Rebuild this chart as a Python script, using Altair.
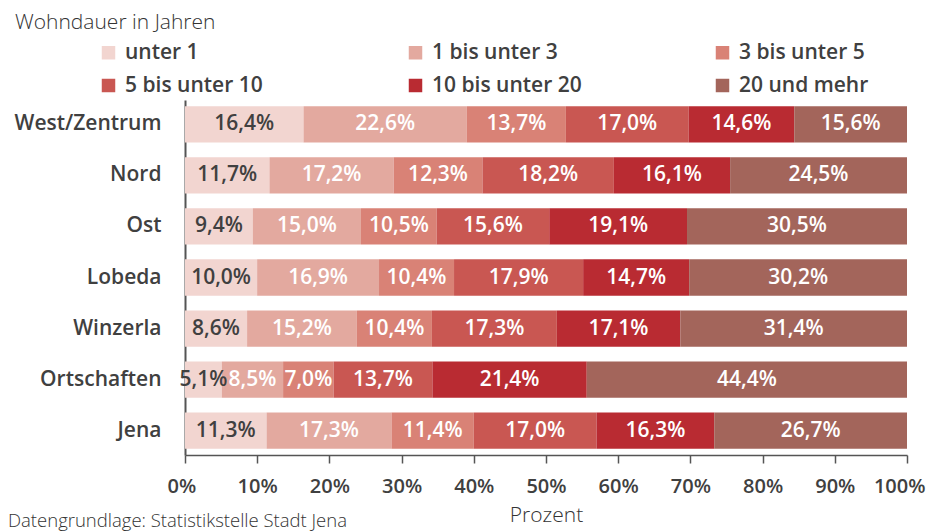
import altair as alt
import pandas as pd

regions = ["West/Zentrum", "Nord", "Ost", "Lobeda", "Winzerla", "Ortschaften", "Jena"]
categories = ["unter 1", "1 bis unter 3", "3 bis unter 5", "5 bis unter 10", "10 bis unter 20", "20 und mehr"]
unter_1 = [16.4, 11.7, 9.4, 10.0, 8.6, 5.1, 11.3]
bis_unter_3 = [22.6, 17.2, 15.0, 16.9, 15.2, 8.5, 17.3]
bis_unter_5 = [13.7, 12.3, 10.5, 10.4, 10.4, 7.0, 11.4]
bis_unter_10 = [17.0, 18.2, 15.6, 17.9, 17.3, 13.7, 17.0]
bis_unter_20 = [14.6, 16.1, 19.1, 14.7, 17.1, 21.4, 16.3]
und_mehr_20 = [15.6, 24.5, 30.5, 30.2, 31.4, 44.4, 26.7]
series = [unter_1, bis_unter_3, bis_unter_5, bis_unter_10, bis_unter_20, und_mehr_20]
colors = ["#f2d5d0", "#e3a99f", "#d98276", "#c95752", "#b92b32", "#a3655b"]
x_ticks = [0, 0.1, 0.2, 0.3, 0.4, 0.5, 0.6, 0.7, 0.8, 0.9, 1.0]
title_text = "Wohndauer in Jahren"
source_text = ["Datengrundlage: Statistikstelle Stadt Jena"]

rows = []
for ci, (cat, vals) in enumerate(zip(categories, series)):
    for region, v in zip(regions, vals):
        rows.append({"region": region, "cat": cat, "order": ci, "value": v})
df = pd.DataFrame(rows)

FONT = "Open Sans"
TXT = "#404040"
FS = 21

y_enc = alt.Y(
    "region:N",
    sort=regions,
    scale=alt.Scale(paddingInner=0.29, paddingOuter=0.12),
    axis=alt.Axis(
        title=None, ticks=False, domain=True, domainColor="#555555", domainWidth=2,
        labelPadding=24, labelFont=FONT, labelFontSize=FS, labelFontWeight=600,
        labelColor=TXT,
    ),
)

base = (
    alt.Chart(df)
    .transform_stack(
        stack="value", groupby=["region"], sort=[alt.SortField("order")],
        as_=["x0", "x1"], offset="normalize",
    )
    .transform_calculate(
        mid="(datum.x0 + datum.x1) / 2",
        label="replace(format(datum.value, '.1f'), '.', ',') + '%'",
    )
)

bars = base.mark_bar().encode(
    y=y_enc,
    x=alt.X(
        "x0:Q",
        scale=alt.Scale(domain=[0, 1], nice=False),
        axis=alt.Axis(
            values=x_ticks, format=".0%", title="Prozent", grid=False,
            labelFlush=True, labelFlushOffset=18,
            domainColor="#555555", domainWidth=1.5, tickColor="#555555",
            tickWidth=1.5, tickSize=8, labelPadding=13, labelFont=FONT,
            labelFontSize=20, labelFontWeight=600, labelColor=TXT,
            titleFont=FONT, titleFontSize=FS, titleFontWeight=300,
            titleColor="#333333", titlePadding=8,
        ),
    ),
    x2="x1:Q",
    color=alt.Color(
        "cat:N",
        scale=alt.Scale(domain=categories, range=colors),
        legend=alt.Legend(
            title=None, orient="none", legendX=-87, legendY=-58, columns=3,
            direction="horizontal",
            symbolType="square", symbolSize=182, symbolStrokeWidth=0,
            labelFont=FONT, labelFontSize=FS, labelFontWeight=600,
            labelColor=TXT, labelOffset=6, labelLimit=300,
            columnPadding=130, rowPadding=11, gridAlign="all", padding=0,
        ),
    ),
)

labels = base.mark_text(font=FONT, fontSize=FS, fontWeight=600).encode(
    y=alt.Y("region:N", sort=regions),
    x=alt.X("mid:Q"),
    text="label:N",
    color=alt.condition(alt.datum.cat == "unter 1", alt.value(TXT), alt.value("white")),
)

source = (
    alt.Chart(pd.DataFrame({"t": source_text}))
    .mark_text(align="left", baseline="alphabetic", font=FONT, fontSize=18.5,
               fontWeight=300, color="#333333")
    .encode(text="t:N", x=alt.value(-177), y=alt.value(427))
)

chart = (
    alt.layer(bars, labels, source)
    .properties(
        width=722, height=355,
        autosize=alt.AutoSizeParams(type="none"),
        padding={"left": 177, "top": 92, "right": 20, "bottom": 76},
        title=alt.TitleParams(
            title_text, anchor="start", dx=7, dy=-5, font=FONT, fontSize=FS,
            fontWeight=300, color="#333333",
        ),
    )
    .configure_view(stroke=None)
)

chart.save("out.html", embed_options={"renderer": "svg", "actions": False})
